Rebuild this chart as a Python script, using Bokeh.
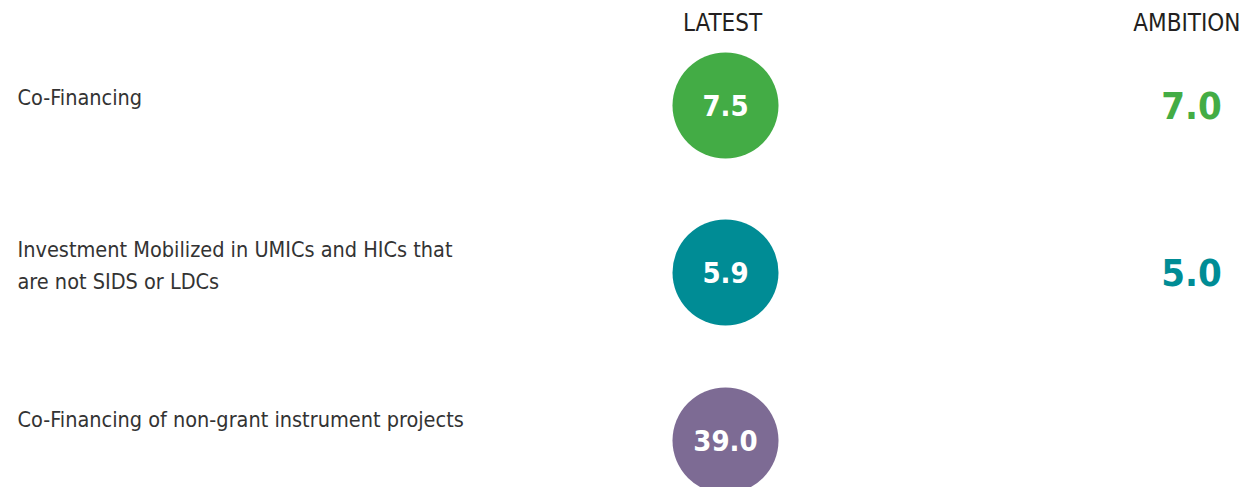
from bokeh.plotting import figure
from bokeh.models import Range1d, ColumnDataSource
from bokeh.core.properties import value
from bokeh.embed import file_html
from bokeh.resources import INLINE

# ---- data ----
indicators = ["Co-Financing",
              "Investment Mobilized in UMICs and HICs that\nare not SIDS or LDCs",
              "Co-Financing of non-grant instrument projects"]
latest = [7.5, 5.9, 39.0]
ambition = [7.0, 5.0, None]
colors = ["#43AC45", "#008C95", "#7D6B94"]
headers = ["LATEST", "AMBITION"]

# ---- layout (page pixel coordinates) ----
W, H = 1244, 487
row_y = [105, 272, 440]
label_y = [97, 265, 419]
x_label, x_latest, x_amb = 17, 725, 1191
FONT = "DejaVu Sans Condensed"

p = figure(width=W, height=H, output_backend="svg", toolbar_location=None,
           x_range=Range1d(0, W), y_range=Range1d(H, 0),
           x_axis_type=None, y_axis_type=None, min_border=0,
           outline_line_color=None, background_fill_color="white")
p.grid.visible = False

src = ColumnDataSource(dict(x=[x_latest] * 3, y=row_y, c=colors,
                            t=[f"{v:.1f}" for v in latest]))
p.circle(x="x", y="y", radius=53, fill_color="c", line_color=None, source=src)
p.text(x="x", y="y", text="t", text_color="white", text_font=value(FONT),
       text_font_size="29px", text_font_style="bold", text_align="center",
       text_baseline="middle", source=src)

p.text(x=[x_label] * 3, y=label_y, text=indicators, text_color="#333333",
       text_font=value(FONT), text_font_size="21.5px", text_align="left",
       text_baseline="middle", text_line_height=1.3)

p.text(x=[x_latest - 3], y=[22], text=headers[:1], text_color="#231F20",
       text_font=value(FONT), text_font_size="24px", text_align="center",
       text_baseline="middle")
p.text(x=[1240], y=[22], text=headers[1:], text_color="#231F20",
       text_font=value(FONT), text_font_size="24px", text_align="right",
       text_baseline="middle")

ai = [i for i, v in enumerate(ambition) if v is not None]
p.text(x=[x_amb] * len(ai), y=[row_y[i] for i in ai],
       text=[f"{ambition[i]:.1f}" for i in ai], text_color=[colors[i] for i in ai],
       text_font=value(FONT), text_font_size="38px", text_font_style="bold",
       text_align="center", text_baseline="middle")

open("out.html", "w").write(file_html(p, INLINE))
